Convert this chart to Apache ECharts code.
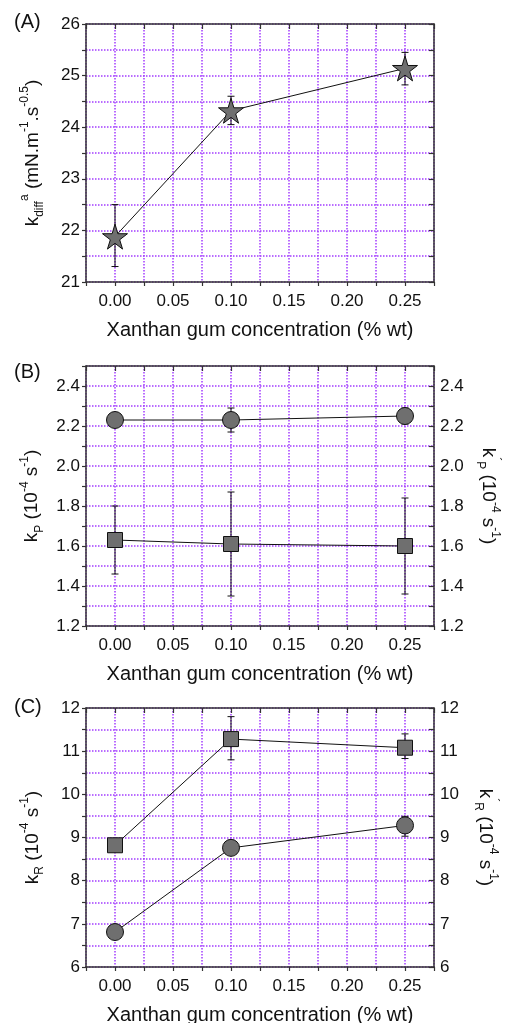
<!DOCTYPE html>
<html>
<head>
<meta charset="utf-8">
<script src="https://cdn.jsdelivr.net/npm/echarts@6/dist/echarts.min.js"></script>
<style>
  html, body { margin: 0; padding: 0; background: #fff; }
  #main { width: 508px; height: 1023px; }
</style>
</head>
<body>
<div id="main"></div>
<script>
// concentrations (% wt)
var xValues = [0.00, 0.10, 0.25];

// panel A: k_diff
var kDiff = [21.88, 24.32, 25.14];
var kDiffLow = [21.30, 24.05, 24.82];
var kDiffHigh = [22.50, 24.60, 25.45];

// panel B: kP (squares) and k'P (circles)
var kpSquare = [1.63, 1.61, 1.60];
var kpSquareLow = [1.46, 1.35, 1.36];
var kpSquareHigh = [1.80, 1.87, 1.84];
var kpCircle = [2.23, 2.23, 2.25];
var kpCircleLow = [2.21, 2.17, 2.21];
var kpCircleHigh = [2.25, 2.29, 2.29];

// panel C: kR (squares) and k'R (circles)
var krSquare = [8.82, 11.28, 11.08];
var krSquareLow = [8.76, 10.80, 10.83];
var krSquareHigh = [8.88, 11.80, 11.40];
var krCircle = [6.81, 8.76, 9.28];
var krCircleLow = [6.76, 8.70, 9.03];
var krCircleHigh = [6.86, 8.82, 9.49];

var FONT = '"Liberation Sans", Arial, sans-serif';
var GRIDCOLOR = '#a23cff';
var MARKER = '#6f6f6f';
var FRAME = '#333';
var STAR = 'path://M50,0 L61,35 L98,35 L68,57 L79,91 L50,70 L21,91 L32,57 L2,35 L39,35 Z';

var nameRich = {
  m: { fontSize: 19, fontFamily: FONT, color: '#111', lineHeight: 27 },
  sup: { fontSize: 12, fontFamily: FONT, color: '#111', verticalAlign: 'top', lineHeight: 12 },
  sub: { fontSize: 12, fontFamily: FONT, color: '#111', verticalAlign: 'bottom', lineHeight: 12 }
};

var pairs = function (xs, ys) {
  return xs.map(function (x, i) { return [x, ys[i]]; });
};
var errData = function (xs, lo, hi) {
  return xs.map(function (x, i) { return [x, lo[i], hi[i]]; });
};

var xLabel = function (v) {
  var k = Math.round(v * 1000);
  if (k < 0 || k > 250 || k % 50 !== 0) return '';
  return v.toFixed(2);
};

var gridLine = { show: true, lineStyle: { color: GRIDCOLOR, type: [1.5, 1.5], width: 1.5 } };

var grids = [
  { left: 86, top: 24, width: 348, height: 258, outerBoundsMode: 'none' },
  { left: 86, top: 366, width: 348, height: 260, outerBoundsMode: 'none' },
  { left: 86, top: 708, width: 348, height: 259, outerBoundsMode: 'none' }
];

var xAxes = [];
var yAxes = [];
[0, 1, 2].forEach(function (g) {
  xAxes.push({
    type: 'value', gridIndex: g, position: 'bottom',
    min: -0.025, max: 0.275, interval: 0.025,
    name: 'Xanthan gum concentration (% wt)',
    nameLocation: 'middle', nameGap: 38,
    nameTextStyle: { fontSize: 20, fontFamily: FONT, color: '#111' },
    axisLine: { show: true, onZero: false, lineStyle: { color: FRAME, width: 1.5 } },
    axisTick: { show: true, length: 4, lineStyle: { color: FRAME, width: 1.2 } },
    axisLabel: { formatter: xLabel, fontSize: 17, fontFamily: FONT, color: '#111', margin: 11 },
    splitLine: gridLine
  });
  xAxes.push({
    type: 'value', gridIndex: g, position: 'top',
    min: -0.025, max: 0.275, interval: 0.025,
    axisLine: { show: true, onZero: false, lineStyle: { color: FRAME, width: 1.5 } },
    axisTick: { show: true, inside: true, length: 5, lineStyle: { color: FRAME, width: 1.2 } },
    axisLabel: { show: false },
    splitLine: { show: false }
  });
});

// y ranges
var yCfg = [
  { min: 21, max: 26, interval: 0.5, fmt: function (v) { return Math.abs(v % 1) < 1e-6 ? String(v) : ''; } },
  { min: 1.2, max: 2.5, interval: 0.1, fmt: function (v) { var k = Math.round(v * 10); return (k % 2 === 0 && k <= 24) ? v.toFixed(1) : ''; } },
  { min: 6, max: 12, interval: 0.5, fmt: function (v) { return Math.abs(v % 1) < 1e-6 ? String(v) : ''; } }
];
var leftNames = [
  '{m|k}{sub|diff}{sup|a}{m| (mN.m}{sup|-1}{m|.s}{sup|-0.5}{m|)}',
  '{m|k}{sub|P}{m| (10}{sup|-4}{m| s}{sup|-1}{m|)}',
  '{m|k}{sub|R}{m| (10}{sup|-4}{m| s}{sup|-1}{m|)}'
];
var rightNames = [
  '',
  '{m|k}{sup|\u00b4}{sub|P}{m| (10}{sup|-4}{m| s}{sup|-1}{m|)}',
  '{m|k}{sup|\u00b4}{sub|R}{m| (10}{sup|-4}{m| s}{sup|-1}{m|)}'
];

[0, 1, 2].forEach(function (g) {
  var c = yCfg[g];
  yAxes.push({
    type: 'value', gridIndex: g, position: 'left',
    min: c.min, max: c.max, interval: c.interval,
    name: leftNames[g], nameLocation: 'middle', nameRotate: 90, nameGap: 40,
    nameTextStyle: { rich: nameRich },
    axisLine: { show: true, onZero: false, lineStyle: { color: FRAME, width: 1.5 } },
    axisTick: { show: true, length: 4, lineStyle: { color: FRAME, width: 1.2 } },
    axisLabel: { formatter: c.fmt, fontSize: 17, fontFamily: FONT, color: '#111', margin: 6 },
    splitLine: gridLine
  });
  yAxes.push({
    type: 'value', gridIndex: g, position: 'right',
    min: c.min, max: c.max, interval: c.interval,
    name: rightNames[g], nameLocation: 'middle', nameRotate: -90, nameGap: 38,
    nameTextStyle: { rich: nameRich },
    axisLine: { show: true, onZero: false, lineStyle: { color: FRAME, width: 1.5 } },
    axisTick: { show: true, inside: true, length: 5, lineStyle: { color: FRAME, width: 1.2 } },
    axisLabel: { show: g > 0, formatter: c.fmt, fontSize: 17, fontFamily: FONT, color: '#111', margin: 6 },
    splitLine: { show: false }
  });
});

var errorBars = function (xAxisIndex, yAxisIndex, data) {
  return {
    type: 'custom', xAxisIndex: xAxisIndex, yAxisIndex: yAxisIndex, z: 1,
    data: data,
    encode: { x: 0, y: [1, 2] },
    renderItem: function (params, api) {
      var x = api.value(0);
      var lo = api.coord([x, api.value(1)]);
      var hi = api.coord([x, api.value(2)]);
      var w = 3.5;
      var st = { stroke: '#111', lineWidth: 1 };
      return {
        type: 'group',
        children: [
          { type: 'line', shape: { x1: lo[0], y1: lo[1], x2: hi[0], y2: hi[1] }, style: st },
          { type: 'line', shape: { x1: lo[0] - w, y1: lo[1], x2: lo[0] + w, y2: lo[1] }, style: st },
          { type: 'line', shape: { x1: hi[0] - w, y1: hi[1], x2: hi[0] + w, y2: hi[1] }, style: st }
        ]
      };
    }
  };
};

var lineSeries = function (xAxisIndex, yAxisIndex, data, symbol, size) {
  return {
    type: 'line', xAxisIndex: xAxisIndex, yAxisIndex: yAxisIndex, z: 3,
    data: data, symbol: symbol, symbolSize: size, showAllSymbol: true,
    lineStyle: { color: '#111', width: 1 },
    itemStyle: { color: MARKER, borderColor: '#111', borderWidth: 1 }
  };
};

var chart = echarts.init(document.getElementById('main'));
chart.setOption({
  animation: false,
  backgroundColor: '#fff',
  grid: grids,
  xAxis: xAxes,
  yAxis: yAxes,
  graphic: [
    { type: 'text', left: 14, top: 12, style: { text: '(A)', fontSize: 20, fontFamily: FONT, fill: '#111' } },
    { type: 'text', left: 14, top: 362, style: { text: '(B)', fontSize: 20, fontFamily: FONT, fill: '#111' } },
    { type: 'text', left: 14, top: 697, style: { text: '(C)', fontSize: 20, fontFamily: FONT, fill: '#111' } }
  ],
  series: [
    errorBars(0, 0, errData(xValues, kDiffLow, kDiffHigh)),
    lineSeries(0, 0, pairs(xValues, kDiff), STAR, 25),

    errorBars(2, 2, errData(xValues, kpSquareLow, kpSquareHigh)),
    lineSeries(2, 2, pairs(xValues, kpSquare), 'rect', 15),
    errorBars(2, 3, errData(xValues, kpCircleLow, kpCircleHigh)),
    lineSeries(2, 3, pairs(xValues, kpCircle), 'circle', 17),

    errorBars(4, 4, errData(xValues, krSquareLow, krSquareHigh)),
    lineSeries(4, 4, pairs(xValues, krSquare), 'rect', 15),
    errorBars(4, 5, errData(xValues, krCircleLow, krCircleHigh)),
    lineSeries(4, 5, pairs(xValues, krCircle), 'circle', 17)
  ]
});
</script>
</body>
</html>
